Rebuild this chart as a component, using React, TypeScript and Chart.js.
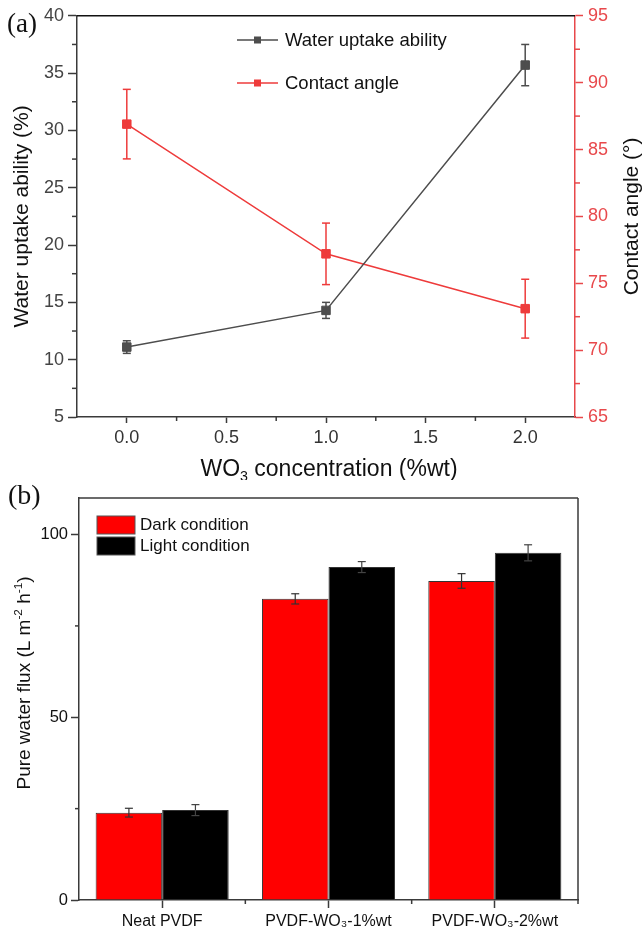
import React, { useEffect, useRef } from "react";
import { Chart, registerables } from "chart.js";
Chart.register(...registerables);

// ---------- Data (a) ----------
const wo3Conc = [0, 1, 2];
const waterUptake = [11.1, 14.3, 35.7];
const waterUptakeErr = [0.55, 0.7, 1.8];
const contactAngle = [86.9, 77.2, 73.1];
const contactAngleErr = [2.6, 2.3, 2.2];
const xTickValues = [0, 0.5, 1, 1.5, 2];
const xMinorTicks = [0.25, 0.75, 1.25, 1.75];
const leftTicks = [5, 10, 15, 20, 25, 30, 35, 40];
const leftMinorTicks = [7.5, 12.5, 17.5, 22.5, 27.5, 32.5, 37.5];
const rightTicks = [65, 70, 75, 80, 85, 90, 95];
const rightMinorTicks = [67.5, 72.5, 77.5, 82.5, 87.5, 92.5];

// ---------- Data (b) ----------
const membranes = ["Neat PVDF", "PVDF-WO\u2083-1%wt", "PVDF-WO\u2083-2%wt"];
const darkFlux = [23.9, 82.4, 87.3];
const darkFluxErr = [1.2, 1.4, 2.0];
const lightFlux = [24.6, 91.1, 95.0];
const lightFluxErr = [1.5, 1.5, 2.2];
const fluxTicks = [0, 50, 100];
const fluxMinorTicks = [25, 75];

const SANS = "'Liberation Sans', Arial, Helvetica, sans-serif";
const SERIF = "'Liberation Serif', 'Times New Roman', serif";
const GREY = "#4d4d4d";
const RED = "#ee3b3b";
const AXIS_RED = "#e8484b";
const AXIS = "#3a3a3a";

type Seg = { t: string; k?: "sub" | "sup" };

function richWidth(ctx: CanvasRenderingContext2D, segs: Seg[], size: number, family: string) {
  let w = 0;
  for (const s of segs) {
    const fs = s.k ? size * 0.62 : size;
    ctx.font = `${fs}px ${family}`;
    w += ctx.measureText(s.t).width;
  }
  return w;
}

function drawRich(ctx: CanvasRenderingContext2D, segs: Seg[], cx: number, cy: number, size: number, family: string, color: string) {
  const w = richWidth(ctx, segs, size, family);
  let x = cx - w / 2;
  const base = cy + size * 0.36;
  ctx.fillStyle = color;
  ctx.textAlign = "left";
  ctx.textBaseline = "alphabetic";
  for (const s of segs) {
    const fs = s.k ? size * 0.62 : size;
    ctx.font = `${fs}px ${family}`;
    const y = s.k === "sub" ? base + size * 0.2 : s.k === "sup" ? base - size * 0.42 : base;
    ctx.fillText(s.t, x, y);
    x += ctx.measureText(s.t).width;
  }
}

function drawRotated(ctx: CanvasRenderingContext2D, segs: Seg[], cx: number, cy: number, size: number, family: string, color: string) {
  ctx.save();
  ctx.translate(cx, cy);
  ctx.rotate(-Math.PI / 2);
  drawRich(ctx, segs, 0, 0, size, family, color);
  ctx.restore();
}

function line(ctx: CanvasRenderingContext2D, x1: number, y1: number, x2: number, y2: number) {
  ctx.beginPath();
  ctx.moveTo(x1, y1);
  ctx.lineTo(x2, y2);
  ctx.stroke();
}

function errorBar(ctx: CanvasRenderingContext2D, x: number, yTop: number, yBot: number, cap: number) {
  line(ctx, x, yTop, x, yBot);
  line(ctx, x - cap, yTop, x + cap, yTop);
  line(ctx, x - cap, yBot, x + cap, yBot);
}

const pluginA = {
  id: "decorA",
  afterDatasetsDraw(chart: any) {
    const ctx: CanvasRenderingContext2D = chart.ctx;
    const sets = [
      { idx: 0, vals: waterUptake, errs: waterUptakeErr, scale: chart.scales.y, color: GREY },
      { idx: 1, vals: contactAngle, errs: contactAngleErr, scale: chart.scales.y1, color: RED },
    ];
    ctx.save();
    ctx.lineWidth = 1.5;
    for (const s of sets) {
      const meta = chart.getDatasetMeta(s.idx);
      ctx.strokeStyle = s.color;
      meta.data.forEach((el: any, i: number) => {
        errorBar(ctx, el.x, s.scale.getPixelForValue(s.vals[i] + s.errs[i]), s.scale.getPixelForValue(s.vals[i] - s.errs[i]), 4);
      });
    }
    ctx.restore();
  },
  afterDraw(chart: any) {
    const ctx: CanvasRenderingContext2D = chart.ctx;
    const a = chart.chartArea;
    const { x, y, y1 } = chart.scales;
    ctx.save();
    ctx.strokeStyle = "#111";
    ctx.lineWidth = 1.5;
    line(ctx, a.left, a.top, a.right, a.top);
    ctx.strokeStyle = AXIS;
    xMinorTicks.forEach((v) => {
      const px = x.getPixelForValue(v);
      line(ctx, px, a.bottom, px, a.bottom + 4);
    });
    leftMinorTicks.forEach((v) => {
      const py = y.getPixelForValue(v);
      line(ctx, a.left - 5, py, a.left, py);
    });
    ctx.strokeStyle = AXIS_RED;
    rightMinorTicks.forEach((v) => {
      const py = y1.getPixelForValue(v);
      line(ctx, a.right, py, a.right + 5, py);
    });
    const cy = (a.top + a.bottom) / 2;
    drawRotated(ctx, [{ t: "Water uptake ability (%)" }], 20, cy, 21, SANS, "#111");
    drawRotated(ctx, [{ t: "Contact angle (\u00b0)" }], 630, cy, 21, SANS, "#111");
    drawRich(ctx, [{ t: "WO" }, { t: "3", k: "sub" }, { t: " concentration (%wt)" }], (a.left + a.right) / 2 + 3, 468, 23, SANS, "#111");
    ctx.font = `27px ${SERIF}`;
    ctx.fillStyle = "#111";
    ctx.textAlign = "left";
    ctx.textBaseline = "middle";
    ctx.fillText("(a)", 7, 25);
    const items = [
      { label: "Water uptake ability", color: GREY, y: 40 },
      { label: "Contact angle", color: RED, y: 83 },
    ];
    items.forEach((it) => {
      ctx.strokeStyle = it.color;
      ctx.lineWidth = 1.5;
      line(ctx, 237, it.y, 278, it.y);
      ctx.fillStyle = it.color;
      ctx.fillRect(257.5 - 3.5, it.y - 3.5, 7, 7);
      ctx.fillStyle = "#111";
      ctx.font = `18.5px ${SANS}`;
      ctx.textAlign = "left";
      ctx.textBaseline = "middle";
      ctx.fillText(it.label, 285, it.y + 1);
    });
    ctx.restore();
  },
};

const pluginB = {
  id: "decorB",
  afterDatasetsDraw(chart: any) {
    const ctx: CanvasRenderingContext2D = chart.ctx;
    const ys = chart.scales.y;
    const sets = [
      { idx: 0, vals: darkFlux, errs: darkFluxErr, color: "#333" },
      { idx: 1, vals: lightFlux, errs: lightFluxErr, color: "#444" },
    ];
    ctx.save();
    ctx.lineWidth = 1.2;
    for (const s of sets) {
      const meta = chart.getDatasetMeta(s.idx);
      ctx.strokeStyle = s.color;
      meta.data.forEach((el: any, i: number) => {
        errorBar(ctx, el.x, ys.getPixelForValue(s.vals[i] + s.errs[i]), ys.getPixelForValue(s.vals[i] - s.errs[i]), 4);
      });
    }
    ctx.restore();
  },
  afterDraw(chart: any) {
    const ctx: CanvasRenderingContext2D = chart.ctx;
    const a = chart.chartArea;
    const { x, y } = chart.scales;
    ctx.save();
    ctx.strokeStyle = AXIS;
    ctx.lineWidth = 1.5;
    line(ctx, a.left, a.top, a.right, a.top);
    line(ctx, a.right, a.top, a.right, a.bottom + 4);
    fluxMinorTicks.forEach((v) => {
      const py = y.getPixelForValue(v);
      line(ctx, a.left - 4, py, a.left, py);
    });
    for (let j = 0; j < membranes.length - 1; j++) {
      const px = (x.getPixelForValue(j) + x.getPixelForValue(j + 1)) / 2;
      line(ctx, px, a.bottom, px, a.bottom + 4);
    }
    drawRotated(
      ctx,
      [{ t: "Pure water flux (L m" }, { t: "-2", k: "sup" }, { t: " h" }, { t: "-1", k: "sup" }, { t: ")" }],
      23,
      203,
      19,
      SANS,
      "#111"
    );
    ctx.font = `28px ${SERIF}`;
    ctx.fillStyle = "#111";
    ctx.textAlign = "left";
    ctx.textBaseline = "middle";
    ctx.fillText("(b)", 8, 17);
    const items = [
      { label: "Dark condition", color: "#ff0000", y: 36 },
      { label: "Light condition", color: "#000000", y: 57 },
    ];
    items.forEach((it) => {
      ctx.fillStyle = it.color;
      ctx.fillRect(97, it.y, 38, 18);
      ctx.strokeStyle = "#555";
      ctx.lineWidth = 1;
      ctx.strokeRect(97, it.y, 38, 18);
      ctx.fillStyle = "#111";
      ctx.font = `17px ${SANS}`;
      ctx.textAlign = "left";
      ctx.textBaseline = "middle";
      ctx.fillText(it.label, 140, it.y + 9);
    });
    ctx.restore();
  },
};

export default function App() {
  const refA = useRef<HTMLCanvasElement>(null);
  const refB = useRef<HTMLCanvasElement>(null);

  useEffect(() => {
    const chartA = new Chart(refA.current as HTMLCanvasElement, {
      type: "line",
      data: {
        datasets: [
          {
            label: "Water uptake ability",
            data: wo3Conc.map((c, i) => ({ x: c, y: waterUptake[i] })),
            yAxisID: "y",
            borderColor: GREY,
            backgroundColor: GREY,
            pointBackgroundColor: GREY,
            pointBorderColor: GREY,
            pointStyle: "rect",
            pointRadius: 6,
            pointBorderWidth: 1,
            borderWidth: 1.5,
          },
          {
            label: "Contact angle",
            data: wo3Conc.map((c, i) => ({ x: c, y: contactAngle[i] })),
            yAxisID: "y1",
            borderColor: RED,
            backgroundColor: RED,
            pointBackgroundColor: RED,
            pointBorderColor: RED,
            pointStyle: "rect",
            pointRadius: 6,
            pointBorderWidth: 1,
            borderWidth: 1.5,
          },
        ],
      },
      options: {
        animation: false,
        responsive: false,
        layout: { padding: { top: 15, right: 0, left: 0, bottom: 0 } },
        plugins: { legend: { display: false }, tooltip: { enabled: false } },
        scales: {
          x: {
            type: "linear",
            min: -0.25,
            max: 2.25,
            afterBuildTicks: (s: any) => {
              s.ticks = xTickValues.map((v) => ({ value: v }));
            },
            afterFit: (s: any) => {
              s.height = 63;
            },
            ticks: {
              callback: (v: any) => Number(v).toFixed(1),
              font: { family: SANS, size: 18 },
              color: "#333",
              padding: 4,
              maxRotation: 0,
            },
            grid: { drawOnChartArea: false, tickLength: 6, color: AXIS, tickWidth: 1.5 },
            border: { color: AXIS, width: 1.5 },
          },
          y: {
            type: "linear",
            position: "left",
            min: 5,
            max: 40,
            afterBuildTicks: (s: any) => {
              s.ticks = leftTicks.map((v) => ({ value: v }));
            },
            afterFit: (s: any) => {
              s.width = 77;
            },
            ticks: { font: { family: SANS, size: 18 }, color: "#444", padding: 4 },
            grid: { drawOnChartArea: false, tickLength: 9, color: AXIS, tickWidth: 1.5 },
            border: { color: AXIS, width: 1.5 },
          },
          y1: {
            type: "linear",
            position: "right",
            min: 65,
            max: 95,
            afterBuildTicks: (s: any) => {
              s.ticks = rightTicks.map((v) => ({ value: v }));
            },
            afterFit: (s: any) => {
              s.width = 67;
            },
            ticks: { font: { family: SANS, size: 18 }, color: AXIS_RED, padding: 5 },
            grid: { drawOnChartArea: false, tickLength: 8, color: AXIS_RED, tickWidth: 1.5 },
            border: { color: AXIS_RED, width: 1.5 },
          },
        },
      },
      plugins: [pluginA],
    } as any);

    const chartB = new Chart(refB.current as HTMLCanvasElement, {
      type: "bar",
      data: {
        labels: membranes,
        datasets: [
          {
            label: "Dark condition",
            data: darkFlux,
            backgroundColor: "#ff0000",
            borderColor: "#333",
            borderWidth: 1,
            categoryPercentage: 0.8,
            barPercentage: 1,
          },
          {
            label: "Light condition",
            data: lightFlux,
            backgroundColor: "#000000",
            borderColor: "#333",
            borderWidth: 1,
            categoryPercentage: 0.8,
            barPercentage: 1,
          },
        ],
      },
      options: {
        animation: false,
        responsive: false,
        layout: { padding: { top: 18, right: 64, left: 0, bottom: 0 } },
        plugins: { legend: { display: false }, tooltip: { enabled: false } },
        scales: {
          x: {
            afterFit: (s: any) => {
              s.height = 35;
            },
            ticks: {
              font: { family: SANS, size: 16 },
              color: "#111",
              padding: 4,
              maxRotation: 0,
              autoSkip: false,
            },
            grid: { offset: false, drawOnChartArea: false, tickLength: 8, color: AXIS, tickWidth: 1.5 },
            border: { color: AXIS, width: 1.5 },
          },
          y: {
            min: 0,
            max: 110,
            afterBuildTicks: (s: any) => {
              s.ticks = fluxTicks.map((v) => ({ value: v }));
            },
            afterFit: (s: any) => {
              s.width = 79;
            },
            ticks: { font: { family: SANS, size: 16.5 }, color: "#111", padding: 3 },
            grid: { drawOnChartArea: false, tickLength: 8, color: AXIS, tickWidth: 1.5 },
            border: { color: AXIS, width: 1.5 },
          },
        },
      },
      plugins: [pluginB],
    } as any);

    return () => {
      chartA.destroy();
      chartB.destroy();
    };
  }, []);

  return (
    <div style={{ position: "absolute", left: 0, top: 0, width: 642, height: 935, background: "#fff" }}>
      <canvas ref={refA} width={642} height={480} style={{ display: "block", width: 642, height: 480 }} />
      <canvas ref={refB} width={642} height={455} style={{ display: "block", width: 642, height: 455 }} />
    </div>
  );
}
